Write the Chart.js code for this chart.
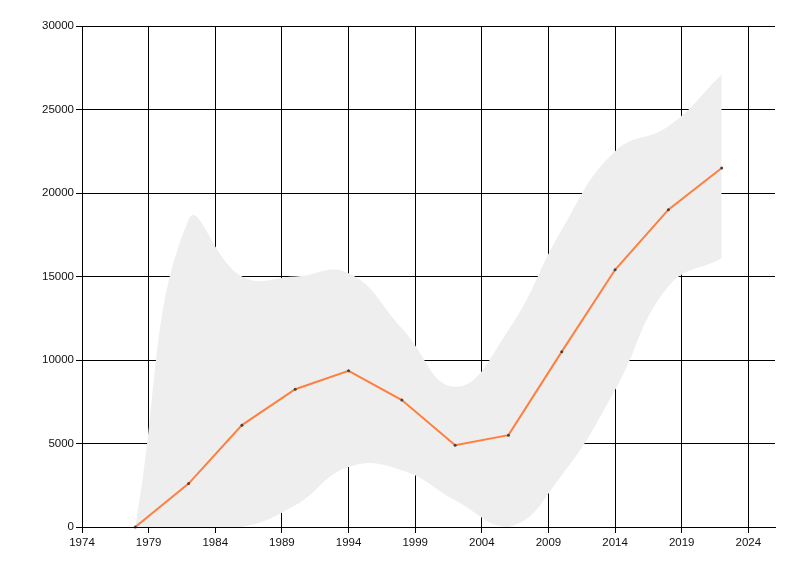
<!DOCTYPE html>
<html>
<head>
<meta charset="utf-8">
<script src="https://cdn.jsdelivr.net/npm/chart.js@4/dist/chart.umd.min.js"></script>
<style>
  html, body { margin: 0; padding: 0; background: #fff; }
  #wrap { width: 800px; height: 576px; }
</style>
</head>
<body>
<div id="wrap"><canvas id="trendChart" width="800" height="576"></canvas></div>
<script>
const years = [1978, 1982, 1986, 1990, 1994, 1998, 2002, 2006, 2010, 2014, 2018, 2022];
const values = [0, 2600, 6100, 8250, 9350, 7600, 4900, 5500, 10500, 15400, 19000, 21500];
const upper = [0, 18400, 15000, 15000, 15200, 11900, 8400, 11800, 17800, 22500, 24000, 27100];
const lower = [0, 0, 0, 1300, 3600, 3400, 1600, 0, 3100, 8200, 14400, 16100];
const xTicks = [1974, 1979, 1984, 1989, 1994, 1999, 2004, 2009, 2014, 2019, 2024];

const toPoints = arr => years.map((y, i) => ({ x: y, y: arr[i] }));

const ctx = document.getElementById('trendChart').getContext('2d');
new Chart(ctx, {
    type: 'line',
    data: {
        datasets: [{
            label: 'Value',
            data: toPoints(values),
            borderColor: '#ff7f3f',
            borderWidth: 2,
            pointRadius: 1.5,
            pointBackgroundColor: '#444',
            pointBorderWidth: 0,
            tension: 0,
            fill: false,
            clip: false,
            order: 0
        }, {
            label: 'Upper',
            data: toPoints(upper),
            borderWidth: 0,
            borderColor: 'rgba(0,0,0,0)',
            pointRadius: 0,
            tension: 0.45,
            fill: '+1',
            backgroundColor: '#eeeeee',
            order: 1
        }, {
            label: 'Lower',
            data: toPoints(lower),
            borderWidth: 0,
            borderColor: 'rgba(0,0,0,0)',
            pointRadius: 0,
            tension: 0.45,
            fill: false,
            order: 2
        }]
    },
    options: {
        responsive: false,
        animation: false,
        layout: { padding: { top: 26, right: 25, left: 0, bottom: 0 } },
        plugins: {
            legend: { display: false },
            tooltip: { enabled: false }
        },
        scales: {
            x: {
                type: 'linear',
                min: 1974,
                max: 2026,
                afterBuildTicks: scale => { scale.ticks = xTicks.map(v => ({ value: v })); },
                afterFit: scale => { scale.height = 49; },
                grid: { color: '#000', lineWidth: 1, tickLength: 6, tickColor: '#000' },
                border: { color: '#000', width: 1, z: 1 },
                ticks: {
                    color: '#111',
                    padding: 3,
                    maxRotation: 0,
                    font: { family: 'Liberation Sans', size: 11.5 },
                    callback: v => String(v)
                }
            },
            y: {
                min: 0,
                max: 30000,
                afterFit: scale => { scale.width = 82; },
                grid: { color: '#000', lineWidth: 1, tickLength: 6, tickColor: '#000' },
                border: { color: '#000', width: 1, z: 1 },
                ticks: {
                    stepSize: 5000,
                    color: '#111',
                    padding: 2,
                    font: { family: 'Liberation Sans', size: 11.5 },
                    callback: v => String(v)
                }
            }
        }
    }
});
</script>
</body>
</html>
